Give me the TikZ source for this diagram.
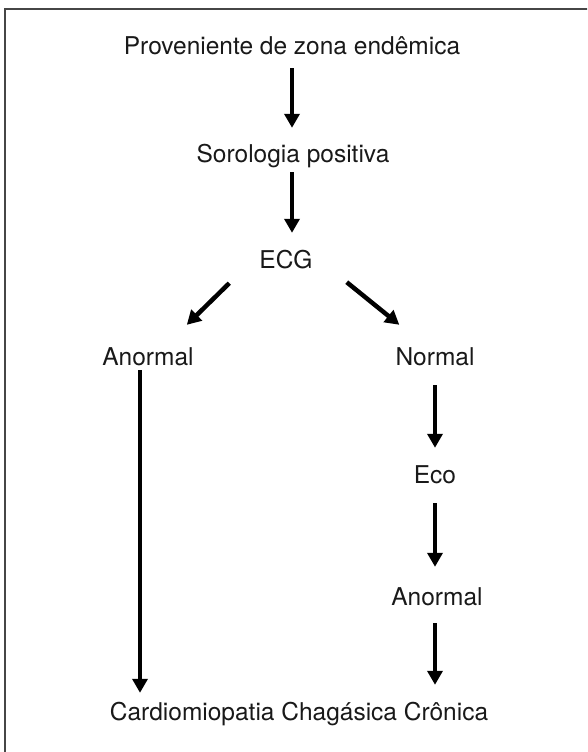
\documentclass[tikz,border=0pt]{standalone}
\usepackage{fontspec}
\setmainfont{TeX Gyre Heros}
\usetikzlibrary{arrows.meta}
\definecolor{flowtext}{RGB}{25,25,25}
\definecolor{flowframe}{RGB}{70,70,70}
\tikzset{
  flowlbl/.style={anchor=base, inner sep=0pt, text height=17pt, text depth=5pt,
    font=\fontsize{24.5}{28}\selectfont, text=flowtext},
  flowarr/.style={-{Triangle[length=14pt,width=15pt]}, line width=4.5pt, black}
}
\begin{document}
\begin{tikzpicture}[x=1pt,y=-1pt]
  \useasboundingbox (0,0) rectangle (587,752);
  \clip (0,0) rectangle (587,752);
  \draw[line width=2pt,flowframe] (4.5,9.5) rectangle (600,770);
  % labels
  \node[flowlbl] (prov) at (292,55) {Proveniente de zona endêmica};
  \node[flowlbl] (soro) at (293,162) {Sorologia positiva};
  \node[flowlbl] (ecg) at (286,268) {ECG};
  \node[flowlbl] (anorL) at (148,365) {Anormal};
  \node[flowlbl] (norm) at (435,365) {Normal};
  \node[flowlbl] (eco) at (435,483) {Eco};
  \node[flowlbl] (anorR) at (437,605) {Anormal};
  \node[flowlbl] (cardio) at (299,720) {Cardiomiopatia Chagásica Crônica};
  % arrows
  \draw[flowarr,shorten <=8pt,shorten >=17pt] (prov.south) -- (prov.south |- soro.north);
  \draw[flowarr,shorten <=5pt,shorten >=18pt] ([xshift=-1pt]soro.south) -- ([xshift=-1pt]soro.south |- ecg.north);
  \draw[flowarr] ([xshift=-30pt,yshift=-10pt]ecg.south west) -- ([xshift=-7pt,yshift=23pt]anorL.north east);
  \draw[flowarr] ([xshift=34pt,yshift=-9pt]ecg.south east) -- ([xshift=4pt,yshift=23pt]norm.north west);
  \draw[flowarr,shorten <=15pt,shorten >=18pt] (norm.south) -- (norm.south |- eco.north);
  \draw[flowarr,shorten <=15pt,shorten >=21pt] (eco.south) -- (eco.south |- anorR.north);
  \draw[flowarr,shorten <=13pt,shorten >=18pt] ([xshift=-2pt]anorR.south) -- ([xshift=-2pt]anorR.south |- cardio.north);
  \draw[flowarr,shorten >=10pt] ([xshift=-8pt]anorL.south) -- ([xshift=-8pt]anorL.south |- cardio.north);
\end{tikzpicture}
\end{document}
